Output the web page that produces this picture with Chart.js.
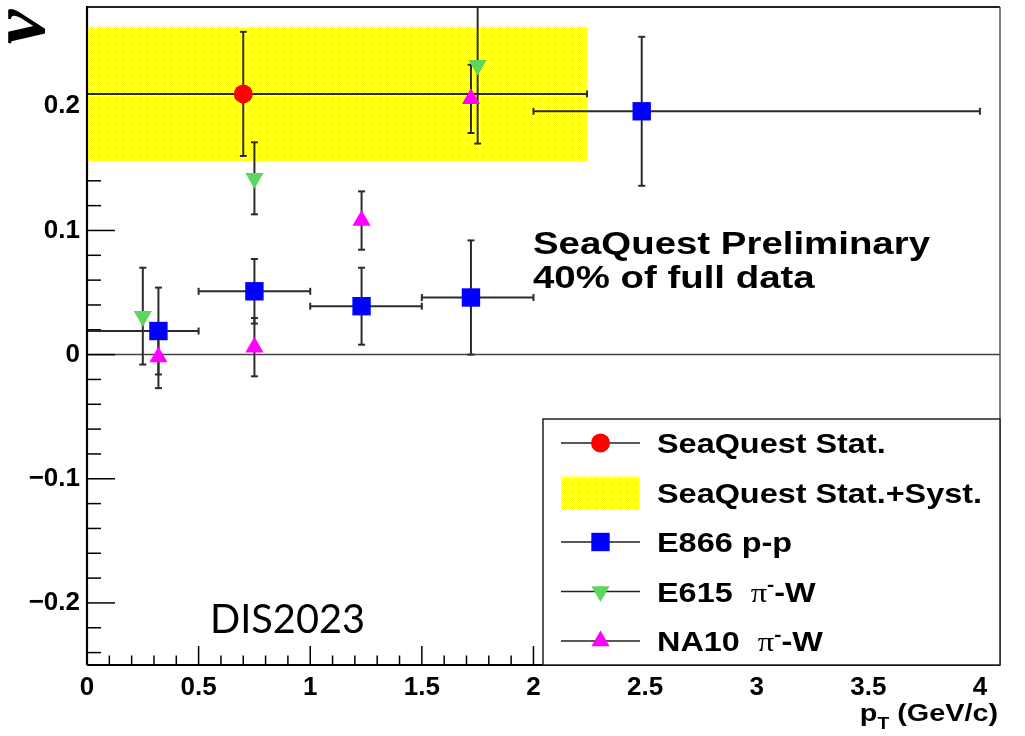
<!DOCTYPE html>
<html>
<head>
<meta charset="utf-8">
<script src="https://cdn.jsdelivr.net/npm/chart.js@4.4.1/dist/chart.umd.min.js"></script>
<style>
  body { margin: 0; background: #fff; }
  #wrap { width: 1025px; height: 736px; position: relative; }
</style>
</head>
<body>
<div id="wrap"><canvas id="chart"></canvas></div>
<script>
// SeaQuest (stat. point + stat.+syst. band)
let sqX = [0.70];
let sqY = [0.210];
let sqErr = [0.050];
let sqXLo = [0.0];
let sqXHi = [2.24];
let sqBandLo = [0.156];
let sqBandHi = [0.264];

// E866 p-p
let e866X = [0.32, 0.75, 1.23, 1.72, 2.485];
let e866Y = [0.019, 0.051, 0.039, 0.046, 0.196];
let e866Err = [0.035, 0.026, 0.031, 0.046, 0.060];
let e866XLo = [0.0, 0.5, 1.0, 1.5, 2.0];
let e866XHi = [0.5, 1.0, 1.5, 2.0, 4.0];

// E615 pi- W
let e615X = [0.25, 0.75, 1.75];
let e615Y = [0.031, 0.142, 0.233];
let e615Err = [0.039, 0.029, 0.063];

// NA10 pi- W
let na10X = [0.32, 0.75, 1.23, 1.72];
let na10Y = [-0.002, 0.006, 0.108, 0.206];
let na10Err = [0.025, 0.0235, 0.0235, 0.0275];

let xTicks = [0, 0.5, 1, 1.5, 2, 2.5, 3, 3.5, 4];
let xTickLabels = ['0', '0.5', '1', '1.5', '2', '2.5', '3', '3.5', '4'];
let yTicks = [-0.2, -0.1, 0, 0.1, 0.2];
let yTickLabels = ['\u22120.2', '\u22120.1', '0', '0.1', '0.2'];

const SANS = '"Liberation Sans", Arial, sans-serif';
const SERIF = '"Liberation Serif", "DejaVu Serif", serif';
const STRETCH = 1.2;

function points(xs, ys) {
  return xs.map((x, i) => ({x: x, y: ys[i]}));
}

function makePattern(ctx) {
  let c = document.createElement('canvas');
  c.width = 6; c.height = 2;
  let g = c.getContext('2d');
  g.fillStyle = '#ffff00';
  g.fillRect(0, 0, 6, 2);
  g.fillStyle = '#ffffff';
  g.fillRect(1, 0, 1, 1);
  g.fillRect(3, 0, 1, 1);
  g.fillRect(0, 1, 1, 1);
  g.fillRect(2, 1, 1, 1);
  g.fillRect(4, 1, 1, 1);
  g.fillStyle = '#ffffc8';
  g.fillRect(5, 0, 1, 2);
  return ctx.createPattern(c, 'repeat');
}

// draw text made of pieces (bold sans, serif greek, sub/superscripts), stretched like the original
function drawRich(ctx, parts, x, y, size, align) {
  ctx.save();
  let w = 0;
  parts.forEach(p => {
    ctx.font = fontFor(p, size);
    w += ctx.measureText(p.t).width;
  });
  ctx.translate(align === 'right' ? x - w * STRETCH : x, y);
  ctx.scale(STRETCH, 1);
  ctx.textAlign = 'left';
  ctx.textBaseline = 'alphabetic';
  ctx.fillStyle = '#000';
  let cx = 0;
  parts.forEach(p => {
    ctx.font = fontFor(p, size);
    let dy = p.sup ? -size * 0.38 : (p.sub ? size * 0.32 : 0);
    ctx.fillText(p.t, cx, dy);
    cx += ctx.measureText(p.t).width;
  });
  ctx.restore();
}

function fontFor(p, size) {
  let s = (p.sub || p.sup) ? Math.round(size * 0.65) : size;
  return p.serif ? s + 'px ' + SERIF : 'bold ' + s + 'px ' + SANS;
}

function line(ctx, x1, y1, x2, y2) {
  ctx.beginPath();
  ctx.moveTo(x1, y1);
  ctx.lineTo(x2, y2);
  ctx.stroke();
}

const rootStyle = {
  id: 'rootStyle',
  beforeDatasetsDraw(chart) {
    let ctx = chart.ctx;
    let a = chart.chartArea;
    let xs = chart.scales.x, ys = chart.scales.y;
    ctx.save();
    ctx.beginPath();
    ctx.rect(a.left, a.top, a.right - a.left, a.bottom - a.top);
    ctx.clip();

    // zero line
    ctx.strokeStyle = '#444';
    ctx.lineWidth = 1.5;
    line(ctx, a.left, ys.getPixelForValue(0), a.right, ys.getPixelForValue(0));

    // axis ticks, drawn inside the frame
    ctx.strokeStyle = '#000';
    ctx.lineWidth = 1.5;
    for (let k = -12; k <= 14; k++) {
      let py = ys.getPixelForValue(k * 0.02);
      line(ctx, a.left, py, a.left + (k % 5 === 0 ? 28 : 14), py);
    }
    for (let k = 0; k <= 40; k++) {
      let px = xs.getPixelForValue(k * 0.1);
      line(ctx, px, a.bottom, px, a.bottom - (k % 5 === 0 ? 19 : 9.5));
    }

    // stat.+syst. band, over the ticks
    ctx.fillStyle = makePattern(ctx);
    let bx1 = xs.getPixelForValue(sqXLo[0]), bx2 = xs.getPixelForValue(sqXHi[0]);
    let by1 = ys.getPixelForValue(sqBandHi[0]), by2 = ys.getPixelForValue(sqBandLo[0]);
    ctx.fillRect(bx1 + 1, by1, bx2 - bx1, by2 - by1);

    // error bars
    ctx.strokeStyle = '#2b2b2b';
    ctx.lineWidth = 2;
    chart.data.datasets.forEach(ds => {
      ds.data.forEach((p, i) => {
        let px = xs.getPixelForValue(p.x), py = ys.getPixelForValue(p.y);
        let top = ys.getPixelForValue(p.y + ds.err[i]);
        let bot = ys.getPixelForValue(p.y - ds.err[i]);
        line(ctx, px, top, px, bot);
        line(ctx, px - 3.5, top, px + 3.5, top);
        line(ctx, px - 3.5, bot, px + 3.5, bot);
        if (ds.xLo) {
          let l = xs.getPixelForValue(ds.xLo[i]), r = xs.getPixelForValue(ds.xHi[i]);
          line(ctx, l, py, r, py);
          line(ctx, l, py - 3.5, l, py + 3.5);
          line(ctx, r, py - 3.5, r, py + 3.5);
        }
      });
    });
    ctx.restore();
  },
  afterDatasetsDraw(chart) {
    let ctx = chart.ctx;
    let a = chart.chartArea;
    ctx.save();
    // frame
    ctx.lineWidth = 2;
    ctx.strokeStyle = '#222';
    line(ctx, a.left, a.top, a.right, a.top);
    ctx.strokeStyle = '#555';
    ctx.lineWidth = 1.5;
    line(ctx, a.right, a.top, a.right, a.bottom);
    ctx.strokeStyle = '#000';
    ctx.lineWidth = 2.2;
    line(ctx, a.left, a.top - 1, a.left, a.bottom);
    line(ctx, a.left, a.bottom, a.right, a.bottom);

    // legend
    let lx = 543, ly = 419;
    ctx.fillStyle = '#fff';
    ctx.fillRect(lx, ly, a.right - lx, a.bottom - ly);
    ctx.strokeStyle = '#222';
    ctx.lineWidth = 1.5;
    ctx.strokeRect(lx, ly, a.right - lx, a.bottom - ly);

    let rows = [
      {ds: 0, parts: [{t: 'SeaQuest Stat.'}]},
      {band: true, parts: [{t: 'SeaQuest Stat.+Syst.'}]},
      {ds: 1, parts: [{t: 'E866 p-p'}]},
      {ds: 2, parts: [{t: 'E615  '}, {t: '\u03c0', serif: true}, {t: '-', sup: true}, {t: '-W'}]},
      {ds: 3, parts: [{t: 'NA10  '}, {t: '\u03c0', serif: true}, {t: '-', sup: true}, {t: '-W'}]}
    ];
    rows.forEach((row, i) => {
      let base = 453 + i * 49.5;
      let my = base - 10;
      if (row.band) {
        ctx.fillStyle = makePattern(ctx);
        ctx.fillRect(561, my - 16, 79, 33);
      } else {
        let ds = chart.data.datasets[row.ds];
        ctx.strokeStyle = '#222';
        ctx.lineWidth = 1.5;
        line(ctx, 561, my, 640, my);
        ctx.fillStyle = ds.backgroundColor;
        Chart.helpers.drawPoint(ctx, {
          pointStyle: ds.pointStyle,
          radius: ds.pointRadius,
          rotation: ds.pointRotation || 0,
          borderWidth: 0
        }, 600.5, my);
      }
      drawRich(ctx, row.parts, 657, base, 27);
    });
    ctx.restore();
  },
  afterDraw(chart) {
    let ctx = chart.ctx;
    ctx.save();
    drawRich(ctx, [{t: 'SeaQuest Preliminary'}], 533, 254, 32);
    drawRich(ctx, [{t: '40% of full data'}], 533, 288, 32);
    drawRich(ctx, [{t: 'p'}, {t: 'T', sub: true}, {t: ' (GeV/c)'}], 998, 721, 24, 'right');

    // DIS2023 label (regular, not stretched)
    ctx.fillStyle = '#000';
    ctx.font = '41px Lato, "Open Sans", sans-serif';
    ctx.textBaseline = 'alphabetic';
    ctx.textAlign = 'left';
    let w = ctx.measureText('DIS2023').width;
    ctx.save();
    ctx.translate(210, 633);
    ctx.scale(155 / w, 1);
    ctx.fillText('DIS2023', 0, 0);
    ctx.restore();

    // y-axis title, rotated like ROOT does
    ctx.translate(44, 27);
    ctx.rotate(-Math.PI / 2);
    ctx.font = 'italic bold 78px ' + SERIF;
    ctx.textAlign = 'center';
    ctx.fillText('\u03bd', 0, 0);
    ctx.restore();
  }
};

const datasets = [
  {
    label: 'SeaQuest Stat.',
    data: points(sqX, sqY), err: sqErr, xLo: sqXLo, xHi: sqXHi,
    backgroundColor: '#ff0000', pointStyle: 'circle', pointRadius: 9.5,
    pointBorderWidth: 0, order: 3
  },
  {
    label: 'E866 p-p',
    data: points(e866X, e866Y), err: e866Err, xLo: e866XLo, xHi: e866XHi,
    backgroundColor: '#0000ff', pointStyle: 'rect', pointRadius: 13,
    pointBorderWidth: 0, order: 2
  },
  {
    label: 'E615 \u03c0-W',
    data: points(e615X, e615Y), err: e615Err,
    backgroundColor: '#5cd65c', pointStyle: 'triangle', pointRotation: 180, pointRadius: 10.5,
    pointBorderWidth: 0, order: 1
  },
  {
    label: 'NA10 \u03c0-W',
    data: points(na10X, na10Y), err: na10Err,
    backgroundColor: '#ff00ff', pointStyle: 'triangle', pointRadius: 10.5,
    pointBorderWidth: 0, order: 0
  }
];

function noEdgePadding(scale) {
  scale.paddingTop = 0;
  scale.paddingBottom = 0;
  scale.paddingLeft = 0;
  scale.paddingRight = 0;
}

let ctx = document.getElementById('chart').getContext('2d');
let chart = new Chart(ctx, {
  type: 'scatter',
  data: {datasets: datasets},
  options: {
    responsive: true,
    maintainAspectRatio: false,
    animation: false,
    events: [],
    layout: {autoPadding: false, padding: {top: 7, right: 25, left: 0, bottom: 0}},
    plugins: {
      legend: {display: false},
      tooltip: {enabled: false}
    },
    scales: {
      x: {
        type: 'linear',
        min: 0,
        max: 4.09,
        grid: {display: false, drawTicks: false},
        border: {display: false},
        afterBuildTicks: (scale) => { scale.ticks = xTicks.map(v => ({value: v})); },
        afterFit: (scale) => { scale.height = 71; noEdgePadding(scale); },
        ticks: {
          padding: 7,
          color: '#000',
          maxRotation: 0,
          autoSkip: false,
          font: {family: SANS, size: 26, weight: 'bold'},
          callback: (value, index) => xTickLabels[index]
        }
      },
      y: {
        type: 'linear',
        min: -0.25,
        max: 0.28,
        grid: {display: false, drawTicks: false},
        border: {display: false},
        afterBuildTicks: (scale) => { scale.ticks = yTicks.map(v => ({value: v})); },
        afterFit: (scale) => { scale.width = 87; noEdgePadding(scale); },
        ticks: {
          padding: 7,
          color: '#000',
          autoSkip: false,
          font: {family: SANS, size: 26, weight: 'bold'},
          callback: (value, index) => yTickLabels[index]
        }
      }
    }
  },
  plugins: [rootStyle]
});
</script>
</body>
</html>
